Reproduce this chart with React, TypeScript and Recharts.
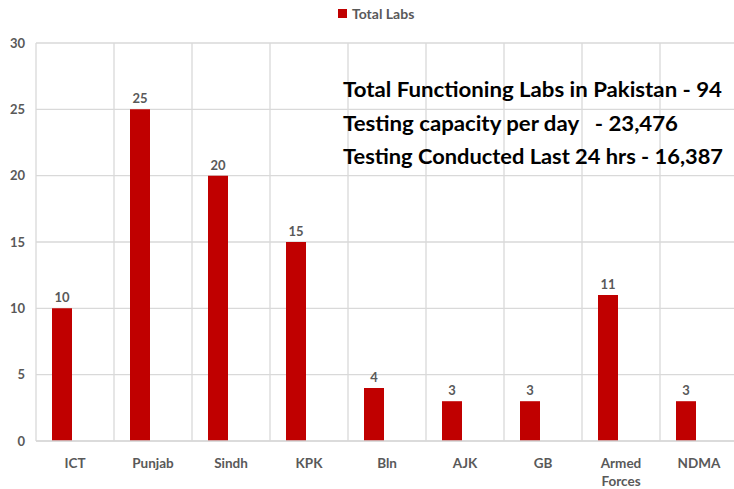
import React from "react";
import {
  BarChart,
  Bar,
  XAxis,
  YAxis,
  CartesianGrid,
  Legend,
  LabelList,
} from "recharts";

const categories = ["ICT", "Punjab", "Sindh", "KPK", "Bln", "AJK", "GB", "Armed Forces", "NDMA"];
const totalLabs = [10, 25, 20, 15, 4, 3, 3, 11, 3];
const yTicks = [0, 5, 10, 15, 20, 25, 30];
const summaryLines = [
  "Total Functioning Labs in Pakistan - 94",
  "Testing capacity per day   - 23,476",
  "Testing Conducted Last 24 hrs - 16,387",
];
// rendered widths of the summary lines in the reference
const summaryWidths = [379, 335, 380];

const BAR_RED = "#C00000";
const GRID = "#D9D9D9";
const LABEL_GRAY = "#595959";
const FONT = "Lato, 'Noto Sans', sans-serif";

const data = categories.map((name, i) => ({
  name,
  labs: totalLabs[i],
  spacer: null as number | null,
}));

function CategoryTick({ x, y, payload }: { x: number; y: number; payload: { value: string } }) {
  const lines = payload.value.split(" ");
  return (
    <g>
      {lines.map((line, i) => (
        <text
          key={i}
          x={x}
          y={y + 27 + i * 18}
          textAnchor="middle"
          fill={LABEL_GRAY}
          fontSize={13.5}
          fontWeight={700}
          fontFamily={FONT}
        >
          {line}
        </text>
      ))}
    </g>
  );
}

function LegendContent() {
  return (
    <div style={{ display: "flex", alignItems: "center", marginLeft: 338, fontFamily: FONT }}>
      <span style={{ width: 9, height: 9, background: BAR_RED, display: "inline-block" }} />
      <span style={{ marginLeft: 5, fontSize: 14, fontWeight: 700, color: LABEL_GRAY }}>Total Labs</span>
    </div>
  );
}

export default function App() {
  return (
    <div style={{ position: "absolute", left: 0, top: 0, width: 734, height: 489, overflow: "hidden", background: "#fff" }}>
      <BarChart
        width={750}
        height={489}
        data={data}
        margin={{ top: 13, right: 12, bottom: 0, left: 0 }}
        barGap={6}
        barSize={20}
      >
        <Legend verticalAlign="top" height={30} wrapperStyle={{ top: 5, left: 0, width: 734 }} content={<LegendContent />} />
        <CartesianGrid
          stroke={GRID}
          strokeWidth={1.3}
          verticalCoordinatesGenerator={({ offset }: any) =>
            Array.from({ length: categories.length + 1 }, (_, i) => offset.left + (i * offset.width) / categories.length)
          }
        />
        <XAxis
          dataKey="name"
          axisLine={{ stroke: GRID, strokeWidth: 1.3 }}
          tickLine={false}
          tickSize={0}
          tickMargin={0}
          height={48}
          interval={0}
          tick={(props: any) => <CategoryTick {...props} />}
        />
        <YAxis
          width={36}
          domain={[0, 30]}
          ticks={yTicks}
          axisLine={false}
          tickLine={false}
          tickMargin={5}
          tick={{ fill: LABEL_GRAY, fontSize: 13, fontWeight: 700, fontFamily: FONT }}
        />
        <Bar dataKey="labs" name="Total Labs" fill={BAR_RED} isAnimationActive={false}>
          <LabelList
            dataKey="labs"
            position="top"
            offset={6}
            fill={LABEL_GRAY}
            fontSize={13}
            fontWeight={700}
            fontFamily={FONT}
          />
        </Bar>
        <Bar dataKey="spacer" legendType="none" fill="transparent" isAnimationActive={false} />
      </BarChart>
      <svg width={734} height={489} style={{ position: "absolute", left: 0, top: 0, pointerEvents: "none" }}>
        {summaryLines.map((line, i) => (
          <text
            key={i}
            x={343}
            y={97 + i * 33.5}
            fontFamily={FONT}
            fontWeight={700}
            fontSize={21}
            fill="#000"
            textLength={summaryWidths[i]}
            lengthAdjust="spacingAndGlyphs"
            style={{ whiteSpace: "pre" }}
          >
            {line}
          </text>
        ))}
      </svg>
    </div>
  );
}
